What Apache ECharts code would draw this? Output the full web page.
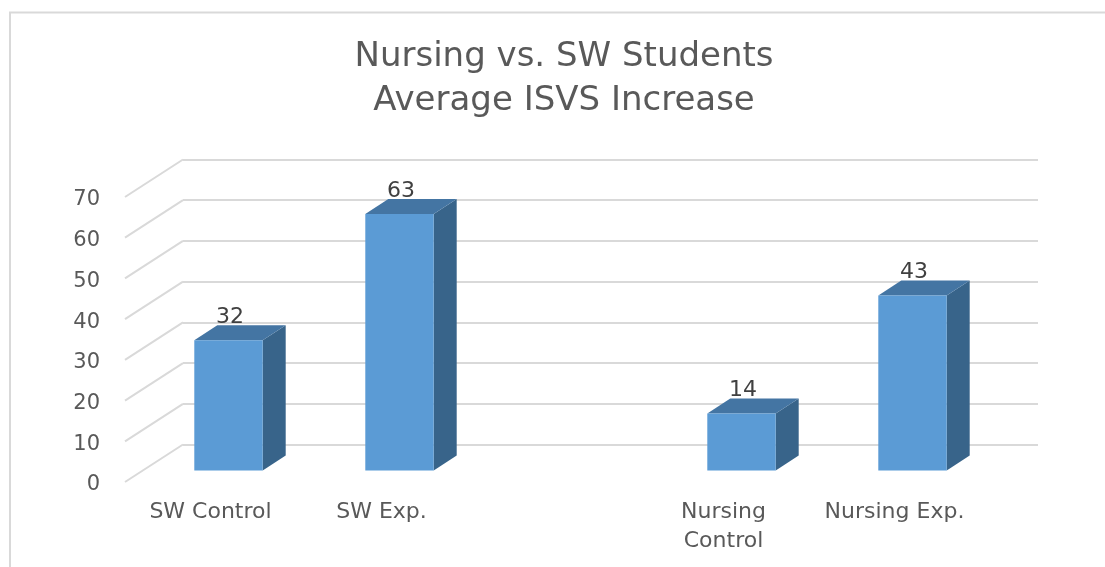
<!DOCTYPE html>
<html>
<head>
<meta charset="utf-8">
<title>Nursing vs. SW Students</title>
<style>
    html, body { margin: 0; padding: 0; background: #fff; }
    #chart { width: 1105px; height: 567px; }
</style>
<script src="https://cdn.jsdelivr.net/npm/echarts@6/dist/echarts.min.js"></script>
</head>
<body>
<div id="chart"></div>
<script>
// chart data
const titleText = 'Nursing vs. SW Students\nAverage ISVS Increase'
const categories = ['SW Control', 'SW Exp.', '', 'Nursing\nControl', 'Nursing Exp.']
const increases = [32, 63, null, 14, 43]
const ticks = [0, 10, 20, 30, 40, 50, 60, 70]

// fake 3D: floor depth of the walls, and where the bars stand on it
const wallDx = 58, wallDy = -37.5
const barDx = 18, barDy = -11.5
const sideDx = 23, sideDy = -15

const textColor = '#595959'
const gridColor = '#d9d9d9'

const mychart = echarts.init(document.getElementById('chart'))
mychart.setOption({
    animation: false,
    title: {
        text: titleText,
        left: 559,
        top: 30,
        textAlign: 'center',
        textStyle: {
            fontFamily: 'DejaVu Sans',
            fontWeight: 'normal',
            fontSize: 34,
            lineHeight: 44,
            color: textColor
        }
    },
    // outer frame of the chart, runs off the picture at right and bottom
    graphic: [{
        type: 'polyline',
        silent: true,
        shape: { points: [[10, 567], [10, 12.5], [1105, 12.5]] },
        style: { fill: 'none', stroke: gridColor, lineWidth: 2 }
    }],
    grid: [
        { left: 125, top: 197, width: 855, height: 285 }, // front plane
        { left: 183, top: 159.5, width: 855, height: 285 } // back wall
    ],
    xAxis: [
        {
            type: 'category',
            gridIndex: 0,
            data: categories,
            axisLine: { show: false },
            axisTick: { show: false },
            axisLabel: {
                interval: 0,
                margin: 16,
                color: textColor,
                fontFamily: 'DejaVu Sans',
                fontSize: 22,
                lineHeight: 29
            }
        },
        { type: 'category', gridIndex: 1, data: categories, show: false }
    ],
    yAxis: [
        {
            type: 'value',
            gridIndex: 0,
            min: 0,
            max: 70,
            interval: 10,
            axisLine: { show: false },
            axisTick: { show: false },
            splitLine: { show: false },
            axisLabel: {
                margin: 25,
                formatter: '{a|{value}}',
                rich: {
                    // nudges the numbers down level with the floor lines
                    a: {
                        padding: [6, 0, 0, 0],
                        color: textColor,
                        fontFamily: 'DejaVu Sans',
                        fontSize: 21
                    }
                }
            }
        },
        {
            type: 'value',
            gridIndex: 1,
            min: 0,
            max: 70,
            interval: 10,
            axisLine: { show: false },
            axisTick: { show: false },
            axisLabel: { show: false },
            splitLine: { lineStyle: { color: gridColor, width: 2 } }
        }
    ],
    series: [
        {
            // floor lines from the tick labels back to the wall
            type: 'custom',
            xAxisIndex: 0,
            yAxisIndex: 0,
            silent: true,
            data: ticks.map(t => [0, t]),
            encode: { x: 0, y: 1 },
            renderItem: function (params, api) {
                const x = params.coordSys.x
                const y = api.coord([0, api.value(1)])[1]
                return {
                    type: 'line',
                    shape: { x1: x, y1: y, x2: x + wallDx, y2: y + wallDy },
                    style: { stroke: gridColor, lineWidth: 2 }
                }
            }
        },
        {
            type: 'custom',
            xAxisIndex: 0,
            yAxisIndex: 0,
            silent: true,
            data: categories.map((c, i) => [i, increases[i]]).filter(d => d[1] !== null),
            encode: { x: 0, y: 1 },
            renderItem: function (params, api) {
                const top = api.coord([api.value(0), api.value(1)])
                const base = api.coord([api.value(0), 0])
                const w = api.size([1, 0])[0] * 0.4
                const x0 = top[0] + barDx - w / 2
                const x1 = x0 + w
                const y0 = top[1] + barDy
                const y1 = base[1] + barDy
                return {
                    type: 'group',
                    children: [
                        {
                            type: 'polygon',
                            shape: { points: [[x1, y0], [x1 + sideDx, y0 + sideDy], [x1 + sideDx, y1 + sideDy], [x1, y1]] },
                            style: { fill: '#38648a' }
                        },
                        {
                            type: 'polygon',
                            shape: { points: [[x0, y0], [x0 + sideDx, y0 + sideDy], [x1 + sideDx, y0 + sideDy], [x1, y0]] },
                            style: { fill: '#4475a3' }
                        },
                        {
                            type: 'rect',
                            shape: { x: x0, y: y0, width: w, height: y1 - y0 },
                            style: { fill: '#5b9bd5' }
                        },
                        {
                            type: 'text',
                            x: top[0] + barDx + 1.5,
                            y: y0 - 23,
                            style: {
                                text: String(api.value(1)),
                                align: 'center',
                                verticalAlign: 'middle',
                                fill: '#404040',
                                font: '22px "DejaVu Sans"'
                            }
                        }
                    ]
                }
            }
        }
    ]
})
</script>
</body>
</html>
